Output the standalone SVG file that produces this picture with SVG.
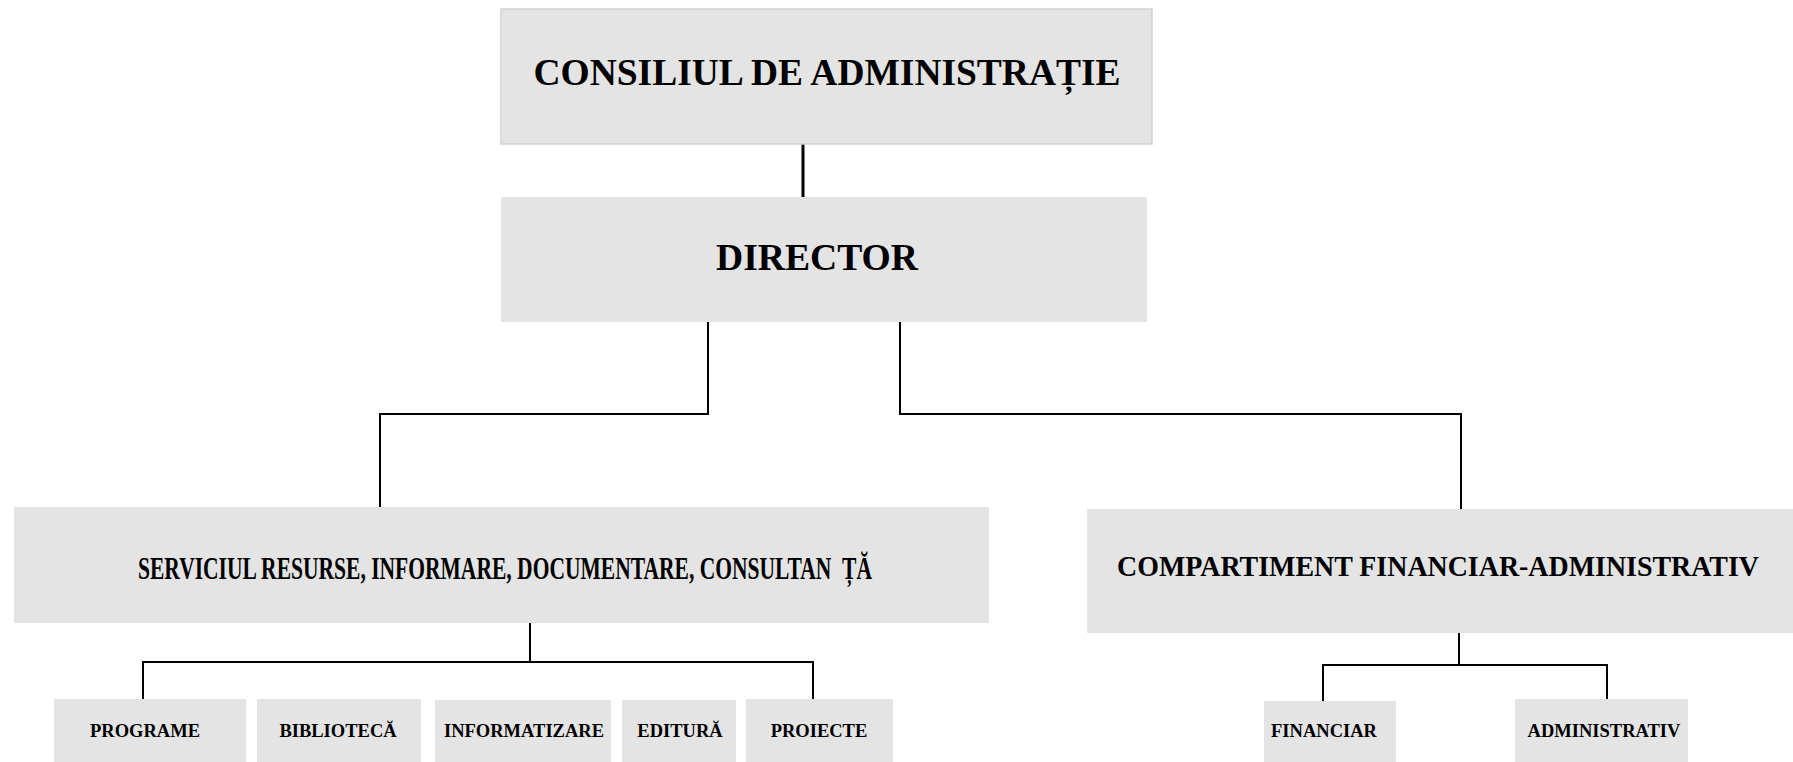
<svg xmlns="http://www.w3.org/2000/svg" width="1793" height="762" viewBox="0 0 1793 762">
<style>
.box{fill:#e4e4e4}
.t{font-family:"Liberation Serif","Times New Roman",serif;font-weight:bold;fill:#000;text-anchor:middle}
.c{fill:none;stroke:#000;stroke-width:2}
</style>
<rect width="1793" height="762" fill="#fff"/>
<g id="connectors">
<line x1="803" y1="144" x2="803" y2="197" style="stroke:#000;stroke-width:3"/>
<polyline class="c" points="708,322 708,414 380,414 380,507"/>
<polyline class="c" points="900,322 900,414 1461,414 1461,509"/>
<polyline class="c" points="530,623 530,662"/>
<polyline class="c" points="143,699 143,662 813,662 813,699"/>
<polyline class="c" points="1459,632 1459,665"/>
<polyline class="c" points="1323,701 1323,665 1607,665 1607,699"/>
</g>
<g id="consiliul">
<rect class="box" x="501" y="9" width="651" height="135" style="stroke:#d2d2d2;stroke-width:1.5"/>
<text class="t" x="827" y="85" font-size="37" textLength="587" lengthAdjust="spacingAndGlyphs">CONSILIUL DE ADMINISTRAȚIE</text>
</g>
<g id="director">
<rect class="box" x="501" y="197" width="646" height="125"/>
<text class="t" x="817" y="270" font-size="38" textLength="202" lengthAdjust="spacingAndGlyphs">DIRECTOR</text>
</g>
<g id="serviciul">
<rect class="box" x="14" y="507" width="975" height="116"/>
<text class="t" x="505" y="579" font-size="32" textLength="734" lengthAdjust="spacingAndGlyphs" xml:space="preserve">SERVICIUL RESURSE, INFORMARE, DOCUMENTARE, CONSULTAN  ȚĂ</text>
</g>
<g id="compartiment">
<rect class="box" x="1087" y="509" width="706" height="124"/>
<text class="t" x="1438" y="576" font-size="28.5" textLength="642" lengthAdjust="spacingAndGlyphs">COMPARTIMENT FINANCIAR-ADMINISTRATIV</text>
</g>
<g id="programe">
<rect class="box" x="54" y="699" width="192" height="63"/>
<text class="t" x="145" y="737" font-size="18.5">PROGRAME</text>
</g>
<g id="biblioteca">
<rect class="box" x="257" y="699" width="164" height="63"/>
<text class="t" x="338" y="737" font-size="18.5">BIBLIOTECĂ</text>
</g>
<g id="informatizare">
<rect class="box" x="435" y="700" width="176" height="62"/>
<text class="t" x="524" y="737" font-size="18.5">INFORMATIZARE</text>
</g>
<g id="editura">
<rect class="box" x="622" y="700" width="114" height="62"/>
<text class="t" x="680" y="737" font-size="18.5">EDITURĂ</text>
</g>
<g id="proiecte">
<rect class="box" x="746" y="699" width="147" height="63"/>
<text class="t" x="819" y="737" font-size="18.5">PROIECTE</text>
</g>
<g id="financiar">
<rect class="box" x="1264" y="701" width="132" height="61"/>
<text class="t" x="1324" y="737" font-size="18.5">FINANCIAR</text>
</g>
<g id="administrativ">
<rect class="box" x="1515" y="699" width="173" height="63"/>
<text class="t" x="1604" y="737" font-size="18.5">ADMINISTRATIV</text>
</g>
</svg>
